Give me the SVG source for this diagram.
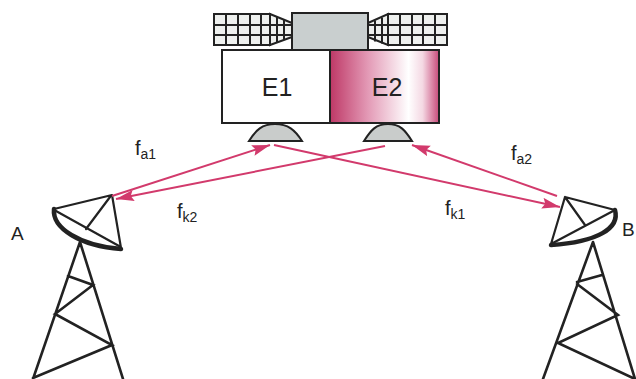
<svg xmlns="http://www.w3.org/2000/svg" width="636" height="379" viewBox="0 0 636 379">
  <style>
    .ink { stroke: #222; fill: none; stroke-linecap: round; stroke-linejoin: round; }
    .grid { stroke: #222; stroke-width: 2; fill: #eef0ee; }
    .gl { stroke: #222; stroke-width: 2; }
    .box { stroke: #222; stroke-width: 2; }
    .dome { fill: #c9cccb; stroke: #222; stroke-width: 2; }
    .tower { stroke: #222; stroke-width: 2.6; fill: none; stroke-linecap: round; }
    .link { stroke: #d23a6c; stroke-width: 2; fill: none; }
    .lbl { font-family: "Liberation Sans", Arial, sans-serif; fill: #222; }
  </style>
  <defs>
    <linearGradient id="e2fill" x1="0" y1="0" x2="1" y2="0">
      <stop offset="0" stop-color="#be3866"/>
      <stop offset="0.35" stop-color="#e39ab6"/>
      <stop offset="0.72" stop-color="#ffffff"/>
      <stop offset="0.85" stop-color="#f4d8e3"/>
      <stop offset="1" stop-color="#c84a7a"/>
    </linearGradient>
    <marker id="head" markerUnits="userSpaceOnUse" markerWidth="20" markerHeight="12" refX="18" refY="5.5" orient="auto">
      <path d="M0,0 L18,5.5 L0,11 L3,5.5 Z" fill="#d23a6c"/>
    </marker>
  </defs>

  <!-- satellite -->
  <g id="satellite">
    <!-- left solar panel -->
    <rect class="grid" x="214" y="14" width="56" height="31"/>
    <polygon class="grid" points="270,14 292,23 292,37 270,45"/>
    <path class="gl" d="M226,14V45 M238,14V45 M250,14V45 M261,14V45 M277,17V42.5 M284,19.7V40 M214,25H292 M214,35H292"/>
    <!-- right solar panel -->
    <polygon class="grid" points="368,23 388,14 388,45 368,37"/>
    <rect class="grid" x="388" y="14" width="59" height="31"/>
    <path class="gl" d="M375,20.5V41.5 M382,17.5V43.5 M400,14V45 M412,14V45 M423,14V45 M435,14V45 M368,25H447 M368,35H447"/>
    <!-- central body -->
    <rect class="box" x="292" y="13" width="76" height="37" fill="#c9cfcf"/>
  </g>

  <g id="E1">
    <rect class="box" x="222" y="50" width="108" height="73" fill="#ffffff"/>
    <text class="lbl" x="277" y="96" font-size="25" text-anchor="middle">E1</text>
    <path class="dome" d="M249,141 C256,130 262,124 275,124 C288,124 295,130 302,141 Z"/>
  </g>

  <g id="E2">
    <rect class="box" x="330" y="50" width="109" height="73" fill="url(#e2fill)"/>
    <text class="lbl" x="387" y="96" font-size="25" text-anchor="middle">E2</text>
    <path class="dome" d="M364,141 C371,130 376,124 388,124 C400,124 405,130 412,141 Z"/>
  </g>

  <!-- ground station A -->
  <g id="station-A">
    <path class="tower" d="M80,242 L33,379 M80,242 L123,379 M68,276 L93,285 L55,314 L112,345 L33,378"/>
    <path class="ink" stroke-width="2.2" d="M54,209 L112,195 L121,248 M56,211 L119,246 M110,197 L86,229"/>
    <path class="ink" stroke-width="4.5" d="M54,209 C52,228 80,246 121,249"/>
    <text class="lbl" x="11" y="240" font-size="19">A</text>
  </g>

  <!-- ground station B -->
  <g id="station-B">
    <path class="tower" d="M593,242 L543,379 M593,242 L635,379 M577,282 L602,275 M577,284 L618,315 L558,343 L635,379"/>
    <path class="ink" stroke-width="2.2" d="M565,197 L615,210 L551,244 Z M565,197 L585,225"/>
    <path class="ink" stroke-width="4.5" d="M615,210 C620,228 598,242 551,245"/>
    <text class="lbl" x="622" y="236" font-size="19">B</text>
  </g>

  <!-- radio links -->
  <g id="links">
    <line class="link" x1="112" y1="196" x2="270" y2="145" marker-end="url(#head)"/>
    <line class="link" x1="385" y1="146" x2="116" y2="199" marker-end="url(#head)"/>
    <line class="link" x1="274" y1="145" x2="560" y2="207" marker-end="url(#head)"/>
    <line class="link" x1="557" y1="196" x2="412" y2="145" marker-end="url(#head)"/>
  </g>

  <g id="labels">
    <text class="lbl" x="135" y="155" font-size="20">f<tspan font-size="14" dy="4">a1</tspan></text>
    <text class="lbl" x="177" y="218" font-size="20">f<tspan font-size="14" dy="4">k2</tspan></text>
    <text class="lbl" x="511" y="160" font-size="20">f<tspan font-size="14" dy="4">a2</tspan></text>
    <text class="lbl" x="445" y="215" font-size="20">f<tspan font-size="14" dy="4">k1</tspan></text>
  </g>
</svg>
